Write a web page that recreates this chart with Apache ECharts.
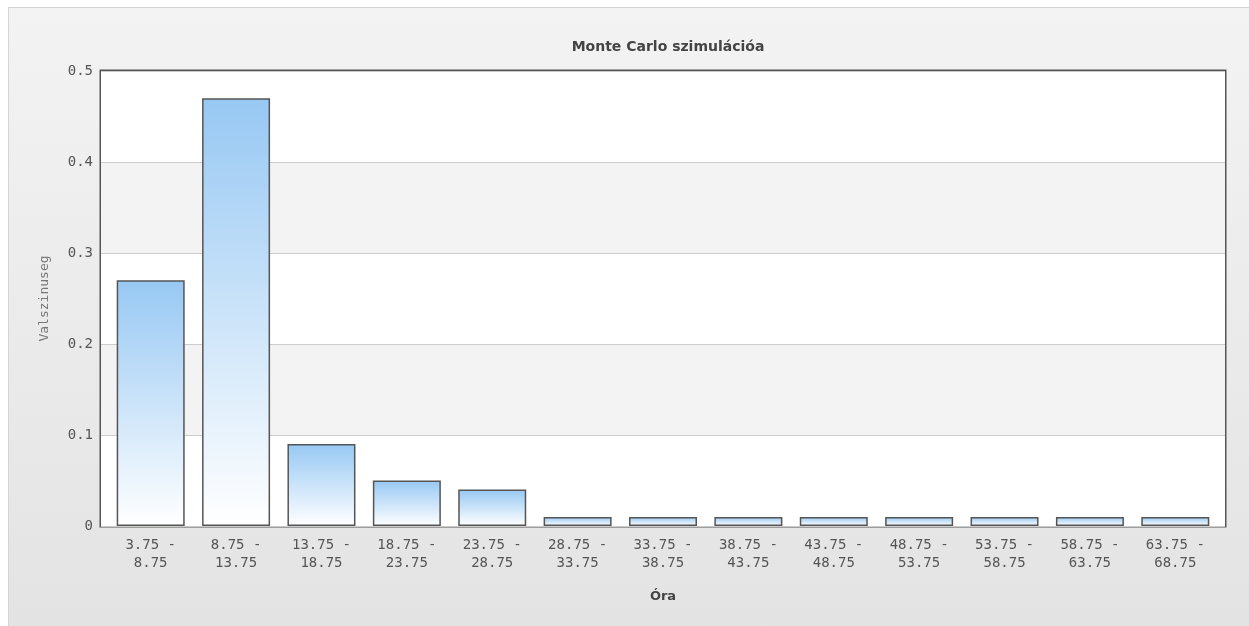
<!DOCTYPE html>
<html>
<head>
<meta charset="utf-8">
<script src="https://cdn.jsdelivr.net/npm/echarts@6/dist/echarts.min.js"></script>
<style>
  html, body { margin: 0; padding: 0; background: #fff; width: 1249px; height: 626px; overflow: hidden; }
  #frame { position: absolute; left: 8px; top: 7px; width: 1250px; height: 630px;
           border: 1px solid #d4d4d4; background: linear-gradient(#f3f3f3, #e3e3e3); }
  #chart { position: absolute; left: 0; top: 0; width: 1249px; height: 626px; }
</style>
</head>
<body>
<div id="frame"></div>
<div id="chart"></div>
<script>
// Hour ranges (bins) and estimated probability for each bin
const categories = [
  '3.75 -\n8.75', '8.75 -\n13.75', '13.75 -\n18.75', '18.75 -\n23.75', '23.75 -\n28.75',
  '28.75 -\n33.75', '33.75 -\n38.75', '38.75 -\n43.75', '43.75 -\n48.75', '48.75 -\n53.75',
  '53.75 -\n58.75', '58.75 -\n63.75', '63.75 -\n68.75'
];
const probabilities = [0.27, 0.47, 0.09, 0.05, 0.04, 0.01, 0.01, 0.01, 0.01, 0.01, 0.01, 0.01, 0.01];
const yTicks = { min: 0, max: 0.5, interval: 0.1 };

const chart = echarts.init(document.getElementById('chart'), null, { renderer: 'canvas' });
const labelFont = 'DejaVu Sans Mono';

chart.setOption({
  backgroundColor: 'transparent',
  animation: false,
  title: {
    text: 'Monte Carlo szimulációa',
    left: 663, top: 35, textAlign: 'center',
    textStyle: { fontFamily: 'DejaVu Sans', fontSize: 14, fontWeight: 'bold', color: '#444' }
  },
  grid: [
    // plot frame with bands, grid lines and the value scale
    { left: 101, top: 71, right: 24, bottom: 100,
      show: true, borderColor: '#555', borderWidth: 3, backgroundColor: '#fff' },
    // bars sit slightly inset from the frame
    { left: 108, top: 71, right: 31, bottom: 100 }
  ],
  xAxis: [
    { gridIndex: 0, type: 'category', data: categories, show: false },
    {
      gridIndex: 1,
      type: 'category',
      data: categories,
      name: 'Óra',
      nameLocation: 'middle',
      nameGap: 64,
      nameTextStyle: { fontFamily: 'DejaVu Sans', fontSize: 13, fontWeight: 'bold', color: '#444' },
      axisLine: { show: false },
      axisTick: { show: false },
      axisLabel: { interval: 0, margin: 10, fontFamily: labelFont, fontSize: 14, color: '#555', lineHeight: 18 }
    }
  ],
  yAxis: [
    {
      gridIndex: 0,
      type: 'value',
      min: yTicks.min, max: yTicks.max, interval: yTicks.interval,
      name: 'Valszinuseg',
      nameLocation: 'middle',
      nameGap: 50,
      nameTextStyle: { fontFamily: labelFont, fontSize: 13, color: '#777' },
      axisLine: { show: false },
      axisTick: { show: false },
      axisLabel: { margin: 8, fontFamily: labelFont, fontSize: 14, color: '#555',
                   formatter: v => (v === 0 ? '0' : v.toFixed(1)) },
      splitLine: { lineStyle: { color: '#cccccc', width: 1 } },
      splitArea: { show: true, areaStyle: { color: ['#ffffff', '#f3f3f3'] } }
    },
    {
      gridIndex: 1,
      type: 'value',
      min: yTicks.min, max: yTicks.max, interval: yTicks.interval,
      show: false
    }
  ],
  series: [{
    type: 'bar',
    xAxisIndex: 1,
    yAxisIndex: 1,
    data: probabilities,
    barWidth: 68,
    itemStyle: {
      borderColor: '#555',
      borderWidth: 1.5,
      color: new echarts.graphic.LinearGradient(0, 0, 0, 1, [
        { offset: 0, color: '#97c8f3' },
        { offset: 1, color: '#ffffff' }
      ])
    }
  }]
});
</script>
</body>
</html>
